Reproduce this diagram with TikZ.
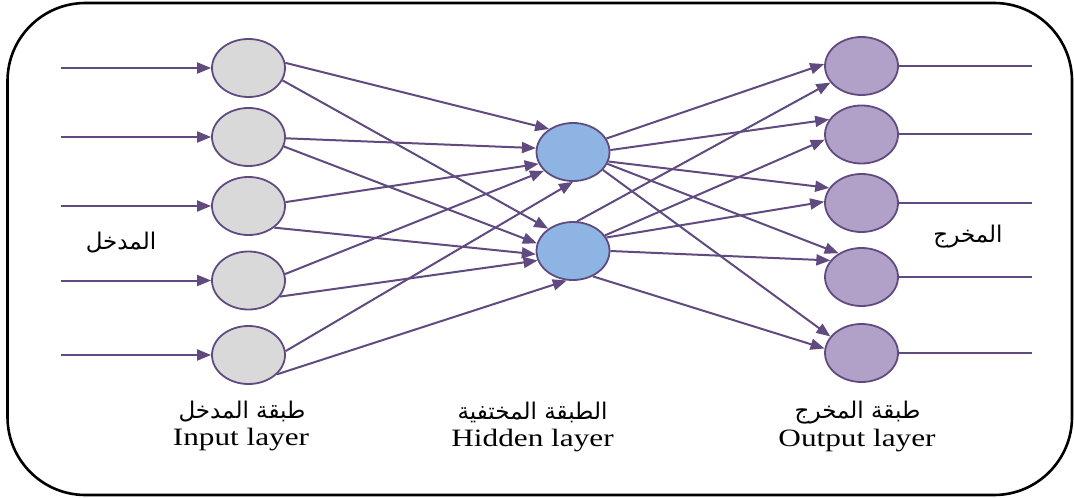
\documentclass[tikz,border=0pt]{standalone}
\usepackage{fontspec}
\setmainfont{Liberation Serif}[FakeStretch=1.25]
\newfontfamily\arabicfont[Script=Arabic]{DejaVu Sans}
\TeXXeTstate=1
\usetikzlibrary{arrows.meta,shapes.geometric}
\definecolor{netpurple}{RGB}{96,74,128}
\definecolor{inputgray}{RGB}{217,217,217}
\definecolor{hiddenblue}{RGB}{141,180,226}
\definecolor{outputlilac}{RGB}{177,160,199}

\begin{document}
\begin{tikzpicture}[x=0.5pt,y=-0.5pt,
    neuron/.style={ellipse, draw=netpurple, line width=0.9pt,
                   minimum width=36.5pt, minimum height=29pt, inner sep=0pt},
    link/.style={draw=netpurple, line width=1pt,
                 -{Triangle[length=7pt,width=5.5pt]}},
    feed/.style={draw=netpurple, line width=1pt},
    arlabel/.style={font=\arabicfont\fontsize{11.5}{13}\selectfont},
    enlabel/.style={font=\fontsize{12.5}{14}\selectfont}]
  \useasboundingbox (0,0) rectangle (1074,497);
  \draw[line width=1.3pt, rounded corners=39pt] (7.5,3) rectangle (1072,495);

  % layers
  \node[neuron, fill=inputgray] (i1) at (248.5,68) {};
  \node[neuron, fill=inputgray] (i2) at (248.5,137) {};
  \node[neuron, fill=inputgray] (i3) at (248.5,206) {};
  \node[neuron, fill=inputgray] (i4) at (248.5,280.5) {};
  \node[neuron, fill=inputgray] (i5) at (248.5,355) {};
  \node[neuron, fill=hiddenblue] (h1) at (573,152) {};
  \node[neuron, fill=hiddenblue] (h2) at (573,251) {};
  \node[neuron, fill=outputlilac] (o1) at (861.5,66) {};
  \node[neuron, fill=outputlilac] (o2) at (861.5,134.5) {};
  \node[neuron, fill=outputlilac] (o3) at (861.5,203) {};
  \node[neuron, fill=outputlilac] (o4) at (861.5,277) {};
  \node[neuron, fill=outputlilac] (o5) at (861.5,353) {};

  % free ends of the input and output lines
  \coordinate (x1) at (61,68);
  \coordinate (x2) at (61,137);
  \coordinate (x3) at (61,206);
  \coordinate (x4) at (61,280.5);
  \coordinate (x5) at (61,355);
  \coordinate (y1) at (1032,66);
  \coordinate (y2) at (1032,134.5);
  \coordinate (y3) at (1032,203);
  \coordinate (y4) at (1032,277);
  \coordinate (y5) at (1032,353);

  \draw[link] (x1) -- (i1.west);
  \draw[link] (x2) -- (i2.west);
  \draw[link] (x3) -- (i3.west);
  \draw[link] (x4) -- (i4.west);
  \draw[link] (x5) -- (i5.west);

  % input -> hidden
  \draw[link] (i1.8) -- (h1.136);
  \draw[link] (i1.-20) -- (h2.138);
  \draw[link] (i2.-2) -- (h1.174);
  \draw[link] (i2.-15) -- (h2.168);
  \draw[link] (i3.6) -- (h1.199);
  \draw[link] (i3.-40) -- (h2.185);
  \draw[link] (i4.10) -- (h1.213);
  \draw[link] (i4.-27) -- (h2.195);
  \draw[link] (i5.6) -- (h1.270);
  \draw[link] (i5.-34) -- (h2.258);

  % hidden -> output
  \draw[link] (h1.22) -- (o1.177);
  \draw[link] (h1.3) -- (o2.155);
  \draw[link] (h1.-15) -- (o3.155);
  \draw[link] (h1.-19) -- (o4.134);
  \draw[link] (h1.-31) -- (o5.152);
  \draw[link] (h2.82) -- (o1.208);
  \draw[link] (h2.26) -- (o2.188);
  \draw[link] (h2.22) -- (o3.178);
  \draw[link] (h2.0) -- (o4.152);
  \draw[link] (h2.-52) -- (o5.173);

  \draw[feed] (o1.east) -- (y1);
  \draw[feed] (o2.east) -- (y2);
  \draw[feed] (o3.east) -- (y3);
  \draw[feed] (o4.east) -- (y4);
  \draw[feed] (o5.east) -- (y5);

  % labels
  \node[arlabel] (inname) at (121,243) {\beginR المدخل\endR};
  \node[arlabel] (outname) at (968,237) {\beginR المخرج\endR};
  \node[arlabel] (inar) at (242,412) {\beginR طبقة المدخل\endR};
  \node[enlabel] (inen) at (241,440) {Input layer};
  \node[arlabel] (hidar) at (532.5,412) {\beginR الطبقة المختفية\endR};
  \node[enlabel] (hiden) at (532.5,441) {Hidden layer};
  \node[arlabel] (outar) at (857.5,413) {\beginR طبقة المخرج\endR};
  \node[enlabel] (outen) at (857,441) {Output layer};
\end{tikzpicture}
\end{document}
